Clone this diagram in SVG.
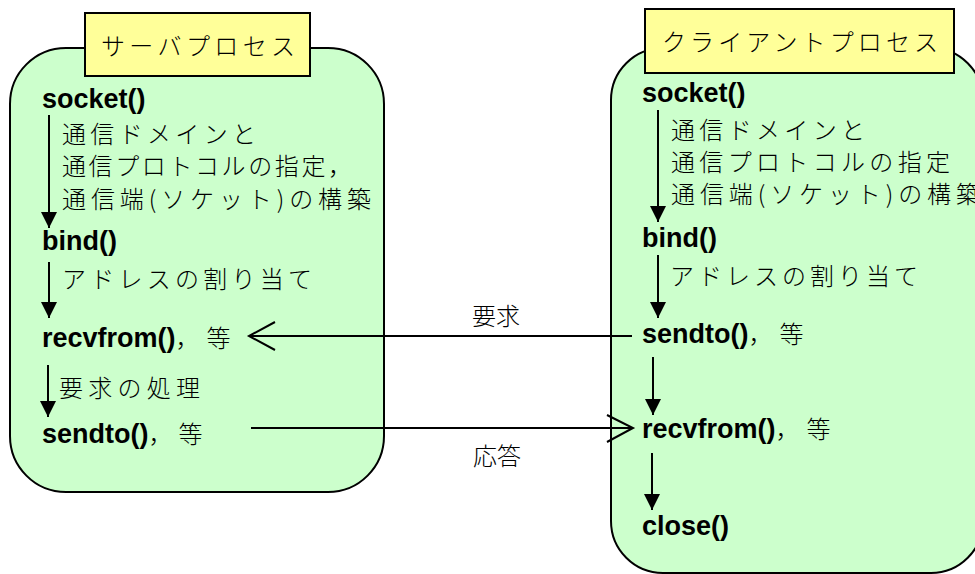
<svg xmlns="http://www.w3.org/2000/svg" width="975" height="574" viewBox="0 0 975 574">
  <style>
    .proc { fill: #CCFFCC; stroke: #000; stroke-width: 2; }
    .tag { fill: #FFFF99; stroke: #000; stroke-width: 2; }
    .fn { font-family: "Liberation Sans", Arial, sans-serif; font-weight: bold; font-size: 27px; fill: #000; }
    .jp { font-family: "Noto Sans CJK JP", "Noto Sans CJK SC", sans-serif; font-weight: 300; font-size: 24px; fill: #000; }
    .flow { stroke: #000; stroke-width: 2; fill: none; }
    .msg { stroke: #000; stroke-width: 2; fill: none; }
  </style>
  <defs>
    <marker id="head" markerUnits="userSpaceOnUse" markerWidth="16" markerHeight="16" refX="16" refY="8" orient="auto">
      <path d="M0,0 L16,8 L0,16 Z" fill="#000"/>
    </marker>
  </defs>

  <!-- client process -->
  <g id="client">
    <rect class="proc" x="611" y="48" width="372" height="525" rx="52" ry="52"/>
    <rect class="tag" x="645" y="9" width="309" height="64"/>
    <text class="jp" x="662" y="51" font-size="27" textLength="276" lengthAdjust="spacing">クライアントプロセス</text>
    <text class="fn" x="642" y="102">socket()</text>
    <text class="jp" x="671" y="139" textLength="194" lengthAdjust="spacing">通信ドメインと</text>
    <text class="jp" x="671" y="171" textLength="279" lengthAdjust="spacing">通信プロトコルの指定</text>
    <text class="jp" x="671" y="203" textLength="309" lengthAdjust="spacing">通信端(ソケット)の構築</text>
    <text class="fn" x="642" y="247">bind()</text>
    <text class="jp" x="670" y="285" textLength="248" lengthAdjust="spacing">アドレスの割り当て</text>
    <text class="fn" x="642" y="343">sendto()<tspan class="jp" font-size="25">，</tspan><tspan class="jp" font-size="25" dx="7">等</tspan></text>
    <text class="fn" x="642" y="438">recvfrom()<tspan class="jp" font-size="25">，</tspan><tspan class="jp" font-size="25" dx="7">等</tspan></text>
    <text class="fn" x="642" y="535">close()</text>
  </g>

  <!-- server process -->
  <g id="server">
    <rect class="proc" x="10" y="48" width="374" height="444" rx="56" ry="56"/>
    <rect class="tag" x="85" y="13" width="225" height="63"/>
    <text class="jp" x="101" y="55" font-size="27" textLength="194" lengthAdjust="spacing">サーバプロセス</text>
    <text class="fn" x="42" y="108">socket()</text>
    <text class="jp" x="62" y="143" textLength="194" lengthAdjust="spacing">通信ドメインと</text>
    <text class="jp" x="62" y="175" textLength="290" lengthAdjust="spacing">通信プロトコルの指定，</text>
    <text class="jp" x="62" y="208" textLength="309" lengthAdjust="spacing">通信端(ソケット)の構築</text>
    <text class="fn" x="42" y="250">bind()</text>
    <text class="jp" x="62" y="288" textLength="250" lengthAdjust="spacing">アドレスの割り当て</text>
    <text class="fn" x="42" y="347">recvfrom()<tspan class="jp" font-size="25">，</tspan><tspan class="jp" font-size="25" dx="7">等</tspan></text>
    <text class="jp" x="59" y="397" textLength="141" lengthAdjust="spacing">要求の処理</text>
    <text class="fn" x="42" y="443">sendto()<tspan class="jp" font-size="25">，</tspan><tspan class="jp" font-size="25" dx="6">等</tspan></text>
  </g>

  <!-- message labels -->
  <g id="labels">
    <text class="jp" x="472" y="325" font-size="26">要求</text>
    <text class="jp" x="473" y="465" font-size="26">応答</text>
  </g>

  <!-- connectors -->
  <g id="connectors">
    <!-- server call order -->
    <line class="flow" x1="49" y1="115" x2="49" y2="228" marker-end="url(#head)"/>
    <line class="flow" x1="49" y1="262" x2="49" y2="318" marker-end="url(#head)"/>
    <line class="flow" x1="48" y1="365" x2="48" y2="417" marker-end="url(#head)"/>
    <!-- client call order -->
    <line class="flow" x1="658" y1="110" x2="658" y2="222" marker-end="url(#head)"/>
    <line class="flow" x1="658" y1="255" x2="658" y2="318" marker-end="url(#head)"/>
    <line class="flow" x1="653" y1="357" x2="653" y2="415" marker-end="url(#head)"/>
    <line class="flow" x1="652" y1="453" x2="652" y2="510" marker-end="url(#head)"/>
    <!-- request: client sendto -> server recvfrom -->
    <line class="msg" x1="632" y1="336" x2="250" y2="336"/>
    <polyline class="msg" points="275,322 249,336 275,350"/>
    <!-- reply: server sendto -> client recvfrom -->
    <line class="msg" x1="251" y1="428" x2="632" y2="428"/>
    <polyline class="msg" points="607,415 633,428 607,442"/>
  </g>
</svg>
